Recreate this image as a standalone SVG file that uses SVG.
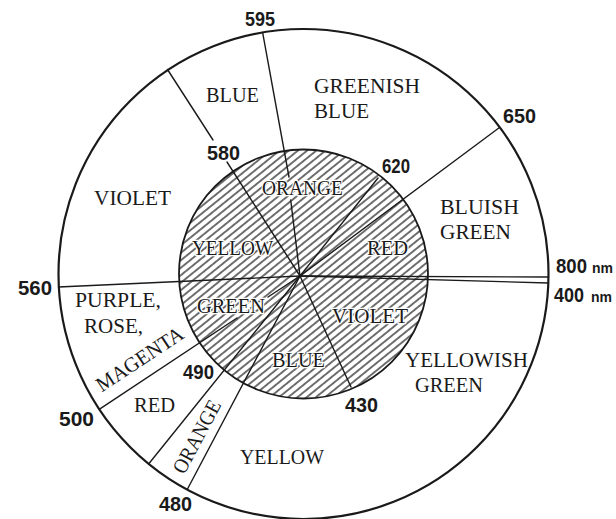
<svg xmlns="http://www.w3.org/2000/svg" width="616" height="519" viewBox="0 0 616 519">
<style>
.circ{fill:none;stroke:#1a1a1a}
.ln{stroke:#1a1a1a;stroke-width:1.4;fill:none;stroke-linecap:round}
.name{font-family:"Liberation Serif","Times New Roman",serif;font-size:21px;fill:#1a1a1a}
.inner{paint-order:stroke;stroke:#fff;stroke-width:2.5px;stroke-linejoin:round}
.num{font-family:"Liberation Sans",Arial,sans-serif;font-weight:bold;font-size:21px;fill:#1a1a1a}
.unit{font-family:"Liberation Sans",Arial,sans-serif;font-weight:bold;font-size:15px;fill:#1a1a1a}
</style>
<defs>
<pattern id="hatch" patternUnits="userSpaceOnUse" width="10" height="5.8" patternTransform="rotate(-39)">
<path d="M-1,2.9 L11,2.9" stroke="#1a1a1a" stroke-width="1.25"/>
</pattern>
</defs>
<rect width="616" height="519" fill="#fff"/>
<g id="outer-ring">
<circle class="circ" cx="303.5" cy="274" r="245" stroke-width="2.2" fill="#fff"/>
</g>
<g id="inner-disc">
<circle cx="303.5" cy="274" r="124.5" fill="url(#hatch)" stroke="#1a1a1a" stroke-width="1.8"/>
</g>
<g id="connectors">
<path class="ln" d="M167.5,69.5 L213,140 M227,162 L300,276"/>
<path class="ln" d="M262.6,32.4 L289,177 M290.7,200 L300,276"/>
<path class="ln" d="M499.5,127.5 L300,276"/>
<path class="ln" d="M378,178 L300,276"/>
<path class="ln" d="M300,276 L548.5,277"/>
<path class="ln" d="M300,276 L548.5,283"/>
<path class="ln" d="M58.5,287 L300,276"/>
<path class="ln" d="M99.2,409.3 L237,318 M268,297 L300,276"/>
<path class="ln" d="M148.6,464 L300,276"/>
<path class="ln" d="M187.5,489 L300,276"/>
<path class="ln" d="M300,276 L351,387"/>
</g>
<g id="outer-labels">
<g id="n-blue-outer"><text class="name" x="206" y="102" textLength="53" lengthAdjust="spacingAndGlyphs">BLUE</text></g>
<g id="n-greenish-blue"><text class="name" x="314" y="93" textLength="106" lengthAdjust="spacingAndGlyphs">GREENISH</text><text class="name" x="314" y="118" textLength="55" lengthAdjust="spacingAndGlyphs">BLUE</text></g>
<g id="n-violet-outer"><text class="name" x="94" y="205" textLength="77" lengthAdjust="spacingAndGlyphs">VIOLET</text></g>
<g id="n-bluish-green"><text class="name" x="440" y="214" textLength="79" lengthAdjust="spacingAndGlyphs">BLUISH</text><text class="name" x="440" y="239" textLength="71" lengthAdjust="spacingAndGlyphs">GREEN</text></g>
<g id="n-purple"><text class="name" x="75" y="307" textLength="86" lengthAdjust="spacingAndGlyphs">PURPLE,</text><text class="name" x="84" y="333" textLength="59" lengthAdjust="spacingAndGlyphs">ROSE,</text><text class="name" transform="translate(143.5,365) rotate(-33.5)" text-anchor="middle" textLength="100" lengthAdjust="spacingAndGlyphs">MAGENTA</text></g>
<g id="n-yellowish-green"><text class="name" x="405" y="367" textLength="123" lengthAdjust="spacingAndGlyphs">YELLOWISH</text><text class="name" x="415" y="392" textLength="68" lengthAdjust="spacingAndGlyphs">GREEN</text></g>
<g id="n-red-outer"><text class="name" x="134" y="412" textLength="41" lengthAdjust="spacingAndGlyphs">RED</text></g>
<g id="n-orange-outer"><text class="name" transform="translate(203,440) rotate(-62)" text-anchor="middle" textLength="80" lengthAdjust="spacingAndGlyphs">ORANGE</text></g>
<g id="n-yellow-outer"><text class="name" x="240" y="464" textLength="84" lengthAdjust="spacingAndGlyphs">YELLOW</text></g>
</g>
<g id="inner-labels">
<g id="n-orange-inner"><text class="name inner" x="262" y="195" textLength="81" lengthAdjust="spacingAndGlyphs">ORANGE</text></g>
<g id="n-yellow-inner"><text class="name inner" x="192" y="255" textLength="81" lengthAdjust="spacingAndGlyphs">YELLOW</text></g>
<g id="n-red-inner"><text class="name inner" x="367" y="255" textLength="41" lengthAdjust="spacingAndGlyphs">RED</text></g>
<g id="n-green-inner"><text class="name inner" x="197" y="313" textLength="68" lengthAdjust="spacingAndGlyphs">GREEN</text></g>
<g id="n-violet-inner"><text class="name inner" x="332" y="323" textLength="76" lengthAdjust="spacingAndGlyphs">VIOLET</text></g>
<g id="n-blue-inner"><text class="name inner" x="272" y="367" textLength="53" lengthAdjust="spacingAndGlyphs">BLUE</text></g>
</g>
<g id="wavelengths">
<text class="num" x="245" y="26" textLength="30" lengthAdjust="spacingAndGlyphs">595</text>
<text class="num" x="503" y="123" textLength="33" lengthAdjust="spacingAndGlyphs">650</text>
<text class="num" x="207" y="160" textLength="33" lengthAdjust="spacingAndGlyphs">580</text>
<text class="num" x="382" y="173" textLength="28" lengthAdjust="spacingAndGlyphs" font-size="19">620</text>
<text class="num" x="18" y="295" textLength="34" lengthAdjust="spacingAndGlyphs">560</text>
<text class="num" x="556" y="273" textLength="31" lengthAdjust="spacingAndGlyphs">800</text>
<text class="unit" x="592" y="273" textLength="21" lengthAdjust="spacingAndGlyphs">nm</text>
<text class="num" x="554" y="302" textLength="30" lengthAdjust="spacingAndGlyphs">400</text>
<text class="unit" x="591" y="302" textLength="21" lengthAdjust="spacingAndGlyphs">nm</text>
<text class="num" x="183" y="379" textLength="31" lengthAdjust="spacingAndGlyphs">490</text>
<text class="num" x="59" y="426" textLength="35" lengthAdjust="spacingAndGlyphs">500</text>
<text class="num" x="345" y="412" textLength="33" lengthAdjust="spacingAndGlyphs">430</text>
<text class="num" x="159" y="511" textLength="33" lengthAdjust="spacingAndGlyphs">480</text>
</g>
</svg>
